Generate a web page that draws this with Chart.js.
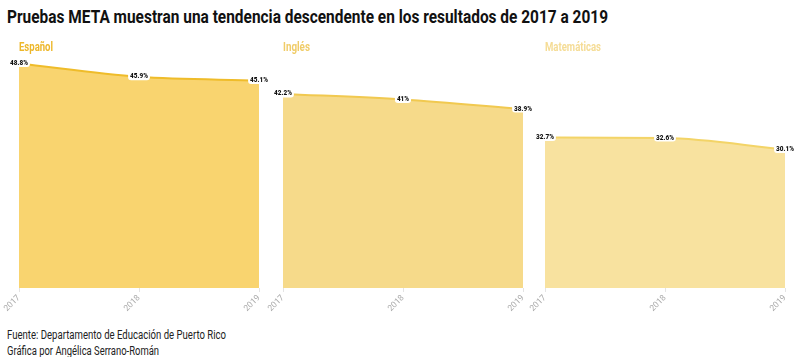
<!DOCTYPE html>
<html>
<head>
<meta charset="utf-8">
<script src="https://cdn.jsdelivr.net/npm/chart.js@4/dist/chart.umd.min.js"></script>
<style>
  html, body { margin: 0; padding: 0; background: #fff; }
  body { width: 800px; height: 357px; position: relative; overflow: hidden; font-family: Roboto, "Open Sans", sans-serif; }
  .fit { position: absolute; white-space: nowrap; transform-origin: 0 0; display: inline-block; }
  #title { left: 7px; top: 6px; font-size: 18.5px; font-weight: 700; color: #111; }
  .ptitle { font-size: 12.5px; font-weight: 700; top: 39px; }
  .src { left: 7px; font-size: 12.5px; color: #222; }
  canvas { position: absolute; }
</style>
</head>
<body>
<div id="title" class="fit" data-w="601">Pruebas META muestran una tendencia descendente en los resultados de 2017 a 2019</div>
<div id="src1" class="fit src" style="top:327px" data-w="219">Fuente: Departamento de Educación de Puerto Rico</div>
<div id="src2" class="fit src" style="top:343px" data-w="152">Gráfica por Angélica Serrano-Román</div>

<script>
// ---- Data ----
const years = ["2017", "2018", "2019"];
const subjects = ["Español", "Inglés", "Matemáticas"];
const espanol = [48.8, 45.9, 45.1];
const ingles = [42.2, 41, 38.9];
const matematicas = [32.7, 32.6, 30.1];
const labelsEspanol = ["48.8%", "45.9%", "45.1%"];
const labelsIngles = ["42.2%", "41%", "38.9%"];
const labelsMatematicas = ["32.7%", "32.6%", "30.1%"];

// ---- Styles ----
const panels = [
  { name: subjects[0], data: espanol, labels: labelsEspanol, left: 0,   titleW: 34, titleColor: "#EDB72A", line: "#EFBC2A", fill: "#F9D46F" },
  { name: subjects[1], data: ingles, labels: labelsIngles, left: 264, titleW: 27, titleColor: "#F0CC68", line: "#F1C950", fill: "#F6DA8A" },
  { name: subjects[2], data: matematicas, labels: labelsMatematicas, left: 526, titleW: 56, titleColor: "#F5DC95", line: "#F3D467", fill: "#F8E29F" }
];

const valueLabelPlugin = {
  id: "valueLabels",
  afterDatasetsDraw(chart) {
    const ctx = chart.ctx;
    const meta = chart.getDatasetMeta(0);
    const texts = chart.data.datasets[0].valueLabels;
    const sx = 0.8;
    ctx.save();
    ctx.font = "900 8px Roboto, sans-serif";
    ctx.textAlign = "center";
    ctx.textBaseline = "middle";
    meta.data.forEach((pt, i) => {
      const t = texts[i];
      const w = ctx.measureText(t).width * sx + 4;
      const h = 9;
      const x = pt.x, y = pt.y - 1;
      ctx.fillStyle = "#fff";
      ctx.beginPath();
      if (ctx.roundRect) ctx.roundRect(x - w / 2, y - h / 2, w, h, 3);
      else ctx.rect(x - w / 2, y - h / 2, w, h);
      ctx.fill();
      ctx.save();
      ctx.translate(x, y + 0.5);
      ctx.scale(sx, 1);
      ctx.fillStyle = "#111";
      ctx.fillText(t, 0, 0);
      ctx.restore();
    });
    ctx.restore();
  }
};

panels.forEach((p) => {
  const c = document.createElement("canvas");
  c.width = 270; c.height = 278;
  c.style.left = p.left + "px";
  c.style.top = "40px";
  c.style.width = "270px"; c.style.height = "278px";
  document.body.appendChild(c);

  const t = document.createElement("div");
  t.className = "fit ptitle";
  t.textContent = p.name;
  t.style.left = (p.left + 19) + "px";
  t.style.color = p.titleColor;
  t.dataset.w = p.titleW;
  document.body.appendChild(t);

  new Chart(c, {
    type: "line",
    data: {
      labels: years,
      datasets: [{
        data: p.data,
        valueLabels: p.labels,
        borderColor: p.line,
        borderWidth: 2,
        backgroundColor: p.fill,
        fill: "origin",
        pointRadius: 0,
        cubicInterpolationMode: "monotone"
      }]
    },
    options: {
      responsive: false,
      animation: false,
      devicePixelRatio: 1,
      layout: { padding: { left: 19, right: 11, top: 18, bottom: 0 } },
      plugins: { legend: { display: false }, tooltip: { enabled: false }, title: { display: false } },
      scales: {
        x: {
          offset: false,
          grid: { display: true, drawOnChartArea: false, drawTicks: true, tickLength: 4, color: "#e4e4e4" },
          border: { display: false },
          ticks: { color: "#aaa", font: { family: "Roboto, sans-serif", size: 8.5 }, minRotation: 45, maxRotation: 45, padding: 1 },
          afterFit: (s) => { s.height = 30; }
        },
        y: { display: false, min: 0, max: 50 }
      }
    },
    plugins: [valueLabelPlugin]
  });
});

// fit condensed look by horizontal scaling
document.querySelectorAll(".fit").forEach((el) => {
  const target = parseFloat(el.dataset.w);
  const w = el.getBoundingClientRect().width;
  if (target && w) el.style.transform = "scaleX(" + (target / w) + ")";
});
</script>
</body>
</html>
